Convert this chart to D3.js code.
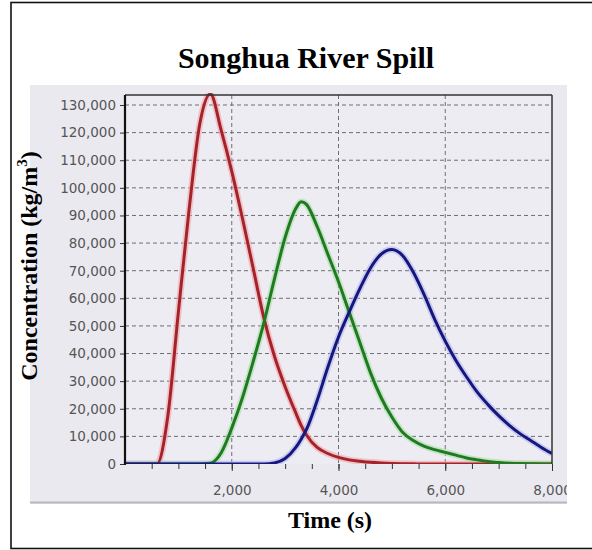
<!DOCTYPE html>
<html>
<head>
<meta charset="utf-8">
<script src="https://cdn.jsdelivr.net/npm/d3@7"></script>
<style>
  html, body { margin: 0; padding: 0; background: #ffffff; }
  svg { display: block; }
</style>
</head>
<body>
<svg id="chart" width="592" height="550"></svg>
<script>
// ---- data ----
const times = [0,200,400,600,800,1000,1200,1400,1600,1800,2000,2200,2400,2600,2800,3000,3200,3300,3400,3600,3800,4000,4200,4400,4600,4800,5000,5200,5400,5600,5800,6000,6200,6400,6600,6800,7000,7200,7400,7600,7800,8000];
const redValues = [0,0,0,0,17000,55000,92000,123000,134000,121000,106000,89000,71000,53000,39000,28000,18500,14000,10500,6000,3800,2400,1500,1000,600,350,200,100,50,0,0,0,0,0,0,0,0,0,0,0,0,0];
const greenValues = [0,0,0,0,0,0,0,0,300,4000,13000,24000,37000,51000,67000,82000,92500,95000,94000,86000,76000,66000,55000,44000,33000,24000,17000,11500,8500,6500,5200,4200,3200,2200,1500,900,550,300,150,80,30,0];
const blueValues = [0,0,0,0,0,0,0,0,0,0,0,0,0,0,400,2000,6000,9000,12500,23000,35000,46000,55000,63500,71000,76000,77700,75500,69500,61500,52500,44500,37500,31500,26000,21500,17500,14000,11000,8500,6000,3800];
const seriesNames = ["Upstream", "Midstream", "Downstream"];
const yTicks = [0,10000,20000,30000,40000,50000,60000,70000,80000,90000,100000,110000,120000,130000];
const xTicks = [2000,4000,6000,8000];
const xMinorTicks = [500,1000,1500,2000,2500,3000,3500,4000,4500,5000,5500,6000,6500,7000,7500,8000];
const xGrid = [2000,4000,6000];
const titleText = "Songhua River Spill";
const xTitle = "Time (s)";

// ---- layout ----
const svg = d3.select("#chart");
const img = {x0: 30, y0: 85, x1: 567, y1: 504};
const plot = {left: 125, right: 552, top: 95, bottom: 464};

const x = d3.scaleLinear().domain([0, 8000]).range([plot.left, plot.right]);
const y = d3.scaleLinear().domain([0, 130000]).range([plot.bottom, 105]);

// outer frame
svg.append("rect").attr("x", 11).attr("y", 2.5).attr("width", 582).attr("height", 546)
  .attr("fill", "#ffffff").attr("stroke", "#111").attr("stroke-width", 1.6);

// chart image background
const defs = svg.append("defs");
defs.append("clipPath").attr("id", "imgclip").append("rect")
  .attr("x", img.x0).attr("y", img.y0).attr("width", img.x1 - img.x0).attr("height", img.y1 - img.y0);
defs.append("clipPath").attr("id", "plotclip").append("rect")
  .attr("x", plot.left).attr("y", plot.top - 2).attr("width", plot.right - plot.left).attr("height", plot.bottom - plot.top + 2);

const imgG = svg.append("g").attr("clip-path", "url(#imgclip)");
imgG.append("rect").attr("x", img.x0).attr("y", img.y0).attr("width", img.x1 - img.x0).attr("height", img.y1 - img.y0)
  .attr("fill", "#ebe9f0");
imgG.append("line").attr("x1", img.x0).attr("x2", img.x1).attr("y1", img.y1 - 1.5).attr("y2", img.y1 - 1.5)
  .attr("stroke", "#b9b5c2").attr("stroke-width", 2);
imgG.append("rect").attr("x", plot.left).attr("y", plot.top).attr("width", plot.right - plot.left).attr("height", plot.bottom - plot.top)
  .attr("fill", "#eeecf3");

// grid
imgG.append("g").selectAll("line").data(yTicks.filter(d => d > 0)).join("line")
  .attr("x1", plot.left).attr("x2", plot.right)
  .attr("y1", d => y(d)).attr("y2", d => y(d))
  .attr("stroke", "#6e6e75").attr("stroke-width", 1).attr("stroke-dasharray", "4,3");
imgG.append("g").selectAll("line").data(xGrid).join("line")
  .attr("x1", d => x(d)).attr("x2", d => x(d))
  .attr("y1", plot.top).attr("y2", plot.bottom)
  .attr("stroke", "#6e6e75").attr("stroke-width", 1).attr("stroke-dasharray", "4,3");

// y axis
const yAxis = d3.axisLeft(y).tickValues(yTicks).tickSize(5).tickPadding(4)
  .tickFormat(d3.format(","));
const yG = imgG.append("g").attr("transform", `translate(${plot.left},0)`).call(yAxis);
yG.select(".domain").remove();
yG.selectAll(".tick line").attr("stroke", "#333");
yG.selectAll(".tick text").attr("font-family", "DejaVu Sans").attr("font-size", 13.5).attr("fill", "#555");

// x axis minor ticks
const xMinor = d3.axisBottom(x).tickValues(xMinorTicks).tickSize(5).tickFormat("");
const xmG = imgG.append("g").attr("transform", `translate(0,${plot.bottom})`).call(xMinor);
xmG.select(".domain").remove();
xmG.selectAll(".tick line").attr("stroke", "#333");
// x axis major ticks + labels
const xAxis = d3.axisBottom(x).tickValues(xTicks).tickSize(7).tickPadding(14)
  .tickFormat(d3.format(","));
const xG = imgG.append("g").attr("transform", `translate(0,${plot.bottom})`).call(xAxis);
xG.select(".domain").remove();
xG.selectAll(".tick line").attr("stroke", "#333");
xG.selectAll(".tick text").attr("font-family", "DejaVu Sans").attr("font-size", 13.5).attr("fill", "#555");

// curves
const allSeries = [
  {name: seriesNames[0], values: redValues, color: "#a3232b", halo: "#f2a5a8"},
  {name: seriesNames[1], values: greenValues, color: "#1f7a22", halo: "#a9e0a6"},
  {name: seriesNames[2], values: blueValues, color: "#15177f", halo: "#b2b6ea"}
];
const line = d3.line().x((d, i) => x(times[i])).y(d => y(d)).curve(d3.curveMonotoneX);
const curveG = imgG.append("g").attr("clip-path", "url(#plotclip)");
allSeries.forEach(s => {
  curveG.append("path").datum(s.values).attr("d", line)
    .attr("fill", "none").attr("stroke", s.halo).attr("stroke-width", 6.5).attr("opacity", 0.6);
});
allSeries.forEach(s => {
  curveG.append("path").datum(s.values).attr("d", line)
    .attr("fill", "none").attr("stroke", s.color).attr("stroke-width", 3)
    .attr("stroke-linejoin", "round");
});

// plot frame
imgG.append("line").attr("x1", plot.left).attr("x2", plot.right).attr("y1", plot.top).attr("y2", plot.top)
  .attr("stroke", "#333").attr("stroke-width", 1.5);
imgG.append("line").attr("x1", plot.right).attr("x2", plot.right).attr("y1", plot.top).attr("y2", plot.bottom)
  .attr("stroke", "#333").attr("stroke-width", 1.5);
imgG.append("line").attr("x1", plot.left).attr("x2", plot.left).attr("y1", plot.top).attr("y2", plot.bottom + 1)
  .attr("stroke", "#111").attr("stroke-width", 2.2);

// titles
svg.append("text").attr("x", 306).attr("y", 68).attr("text-anchor", "middle")
  .attr("font-family", "Liberation Serif").attr("font-weight", "bold").attr("font-size", 30)
  .attr("fill", "#000").text(titleText);
svg.append("text").attr("x", 330).attr("y", 528).attr("text-anchor", "middle")
  .attr("font-family", "Liberation Serif").attr("font-weight", "bold").attr("font-size", 24)
  .attr("fill", "#000").text(xTitle);
const yt = svg.append("text").attr("transform", "translate(37,266) rotate(-90)").attr("text-anchor", "middle")
  .attr("font-family", "Liberation Serif").attr("font-weight", "bold").attr("font-size", 24).attr("fill", "#000");
yt.append("tspan").text("Concentration (kg/m");
yt.append("tspan").attr("font-size", 15).attr("dy", -10).text("3");
yt.append("tspan").attr("dy", 10).text(")");
</script>
</body>
</html>
